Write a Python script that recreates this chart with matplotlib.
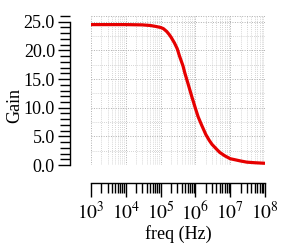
import numpy as np
import matplotlib
matplotlib.use("Agg")
import matplotlib.pyplot as plt
from matplotlib.ticker import LogLocator, MultipleLocator, FormatStrFormatter, NullFormatter

# --- Data ---
freq = [1e3, 1e4, 3e4, 5e4, 7e4, 1e5, 1.2e5, 1.5e5, 1.75e5, 2e5, 2.5e5, 3e5, 3.5e5,
        4.4e5, 5e5, 6e5, 7e5, 8e5, 9e5, 1e6, 1.2e6, 1.5e6, 2e6, 2.5e6, 3e6, 4e6,
        5e6, 7e6, 1e7, 2e7, 3e7, 5e7, 1e8]
gain = [24.5, 24.5, 24.45, 24.35, 24.2, 24.0, 23.8, 23.3, 22.8, 22.3, 21.3, 20.3, 19.0,
        17.3, 16.0, 14.4, 13.0, 11.8, 10.8, 9.9, 8.4, 7.0, 5.3, 4.3, 3.6, 2.8,
        2.2, 1.6, 1.1, 0.7, 0.5, 0.4, 0.3]
y_ticks = [0, 5, 10, 15, 20, 25]

plt.rcParams["font.family"] = ["Liberation Serif", "DejaVu Serif"]
plt.rcParams["mathtext.fontset"] = "stix"

fig = plt.figure(figsize=(2.92, 2.49), dpi=100)
ax = fig.add_axes([0.3116, 0.3373, 0.596, 0.5984])

ax.plot(freq, gain, color="#e60000", lw=2.3, solid_capstyle="butt",
        solid_joinstyle="round", zorder=3)

ax.set_xscale("log")
ax.set_xlim(1e3, 1e8)
ax.set_ylim(0, 26)

# grid: dotted, every decade + minor, every 2.5 in y
ax.xaxis.set_minor_locator(LogLocator(base=10, subs=np.arange(2, 10), numticks=10))
ax.xaxis.set_minor_formatter(NullFormatter())
ax.set_xticks([1e3, 1e4, 1e5, 1e6, 1e7, 1e8])
ax.set_xticklabels([r"$10^{%d}$" % k for k in range(3, 9)])

ax.yaxis.set_minor_locator(MultipleLocator(1))
ax.set_yticks(y_ticks)
ax.yaxis.set_major_formatter(FormatStrFormatter("%.1f"))

ax.grid(True, which="major", axis="both", color="#b0b0b0", ls=(0, (1, 1.5)), lw=0.7)
ax.grid(True, which="minor", axis="x", color="#c8c8c8", ls=(0, (1, 1.5)), lw=0.6)
for yv in np.arange(2.5, 25, 5):
    ax.axhline(yv, color="#c8c8c8", ls=(0, (1, 1.5)), lw=0.6, zorder=0)
ax.axhline(26, color="#b0b0b0", ls=(0, (1, 1.5)), lw=0.7, zorder=0)
ax.axvline(1e8, color="#b0b0b0", ls=(0, (1, 1.5)), lw=0.7, zorder=0)
ax.set_axisbelow(True)

# Igor-style detached axes
ax.spines["top"].set_visible(False)
ax.spines["right"].set_visible(False)
ax.spines["left"].set_position(("outward", 15))
ax.spines["bottom"].set_position(("outward", 13))
ax.spines["left"].set_bounds(0, 25)
for s in ["left", "bottom"]:
    ax.spines[s].set_linewidth(1.0)

ax.tick_params(axis="y", which="major", direction="out", length=9, width=1.0,
               labelsize=13, pad=2)
ax.tick_params(axis="y", which="minor", direction="out", length=7, width=1.0)
ax.tick_params(axis="x", which="major", direction="out", length=10, width=1.0,
               labelsize=14, pad=3)
ax.tick_params(axis="x", which="minor", direction="out", length=7, width=1.0)

ax.set_xlabel("freq (Hz)", fontsize=13, labelpad=1)
ax.set_ylabel("Gain", fontsize=13)
ax.yaxis.set_label_coords(-0.39, 0.4)

fig.savefig("out.png", dpi=100)
